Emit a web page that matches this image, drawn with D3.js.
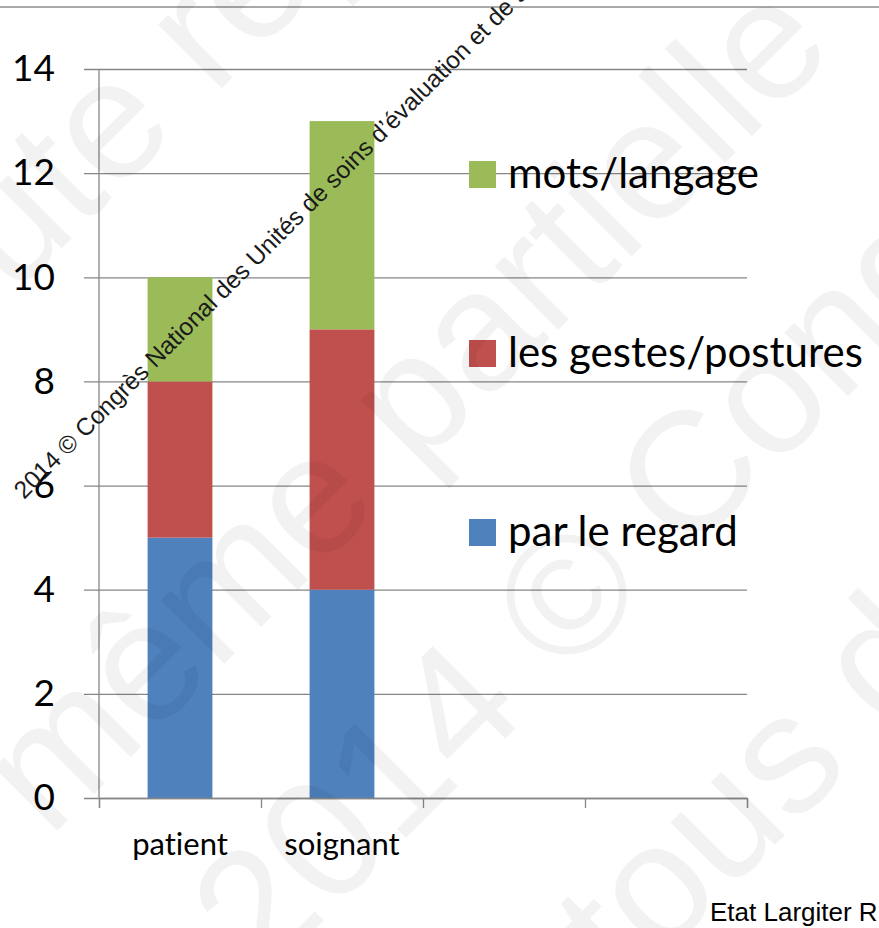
<!DOCTYPE html>
<meta charset="utf-8">
<script src="https://d3js.org/d3.v7.min.js"></script>
<style>
  body { margin: 0; background: #fff; }
  text { font-family: Lato, "Open Sans", sans-serif; font-variant-ligatures: none; }
</style>
<body>
<script>
// data
var categories = ["patient", "soignant", "", ""];
var seriesNames = ["par le regard", "les gestes/postures", "mots/langage"];
var regard = [5, 4];
var gestes = [3, 5];
var mots = [2, 4];
var colors = ["#4F81BD", "#C0504D", "#9BBB59"];
var yTicks = [0, 2, 4, 6, 8, 10, 12, 14];

// watermark lines
var bigMarks = ["Toute reproduction", "même partielle", "2014 © Congrès", "tous droits réservés"];
var smallMark = "2014 © Congrès National des Unités de soins d\u2019évaluation et de soins palliatifs";

var W = 879, H = 928;
var plotL = 99, plotR = 747, plotT = 69, plotB = 798;

var svg = d3.select("body").append("svg")
    .attr("width", W)
    .attr("height", H);

// thin line at top of slide
svg.append("line")
    .attr("x1", 0).attr("x2", W)
    .attr("y1", 7).attr("y2", 7)
    .attr("stroke", "#8c8c8c").attr("stroke-width", 1.3);

var x = d3.scaleBand()
    .domain(d3.range(categories.length))
    .range([plotL, plotR])
    .padding(0);

var xEdge = d3.scaleLinear()
    .domain([0, categories.length])
    .range([plotL, plotR]);

var y = d3.scaleLinear()
    .domain([0, 14])
    .range([plotB, plotT]);

// gridlines + y labels
var yAxis = svg.append("g")
    .attr("transform", "translate(" + (plotL - 15) + ",0)")
    .call(d3.axisLeft(y).tickValues(yTicks).tickSize(-(plotR - plotL + 15)).tickPadding(29));
yAxis.select(".domain").remove();
yAxis.selectAll(".tick line").attr("stroke", "#868686").attr("stroke-width", 1.3);
yAxis.selectAll(".tick text")
    .attr("fill", "#000")
    .style("font-family", "Lato, sans-serif")
    .style("font-size", "37px");

// stacked bars
var table = categories.slice(0, regard.length).map(function(c, i) {
  return {i: i, regard: regard[i], gestes: gestes[i], mots: mots[i]};
});
var keys = ["regard", "gestes", "mots"];
var stacked = d3.stack().keys(keys)(table);
var barW = x.bandwidth() * 0.4;

svg.append("g")
  .selectAll("g")
  .data(stacked)
  .enter().append("g")
    .attr("fill", function(d, k) { return colors[k]; })
  .selectAll("rect")
  .data(function(d) { return d; })
  .enter().append("rect")
    .attr("x", function(d) { return x(d.data.i) + (x.bandwidth() - barW) / 2; })
    .attr("y", function(d) { return y(d[1]); })
    .attr("width", barW)
    .attr("height", function(d) { return y(d[0]) - y(d[1]); });

// y axis line
svg.append("line")
    .attr("x1", plotL).attr("x2", plotL)
    .attr("y1", plotT).attr("y2", plotB)
    .attr("stroke", "#868686").attr("stroke-width", 1.3);

// x axis: ticks at band edges
var xAxis = svg.append("g")
    .attr("transform", "translate(0," + plotB + ")")
    .call(d3.axisBottom(xEdge).ticks(categories.length).tickSize(10).tickFormat(""));
xAxis.selectAll("line, path").attr("stroke", "#868686").attr("stroke-width", 1.3);

// category labels
svg.append("g")
  .selectAll("text")
  .data(categories)
  .enter().append("text")
    .attr("x", function(d, i) { return x(i) + x.bandwidth() / 2; })
    .attr("y", 855)
    .attr("text-anchor", "middle")
    .style("font-size", "31px")
    .text(function(d) { return d; });

// legend (top entry = last series)
var legend = svg.selectAll(".legend")
    .data(seriesNames.slice().reverse())
    .enter().append("g")
      .attr("class", "legend")
      .attr("transform", function(d, i) { return "translate(469," + (161 + i * 179) + ")"; });

legend.append("rect")
    .attr("width", 27)
    .attr("height", 27)
    .attr("fill", function(d, i) { return colors[colors.length - 1 - i]; });

legend.append("text")
    .attr("x", 39)
    .attr("y", 27)
    .style("font-size", "42px")
    .text(function(d) { return d; });

// footer text
svg.append("text")
    .attr("x", 710)
    .attr("y", 921)
    .style("font-family", "'Liberation Sans', Arial, sans-serif")
    .style("font-size", "26px")
    .text("Etat Largiter R");

// big faint watermark
var bigPos = [[-114, 424], [49, 839], [263, 981], [626, 994]];
svg.append("g")
  .selectAll("text")
  .data(bigMarks)
  .enter().append("text")
    .attr("transform", function(d, i) { return "translate(" + bigPos[i][0] + "," + bigPos[i][1] + ") rotate(-45)"; })
    .style("font-family", "'Liberation Sans', Arial, sans-serif")
    .style("font-size", "170px")
    .attr("fill", "rgba(0,0,0,0.05)")
    .text(function(d) { return d; });

// small copyright line
svg.append("text")
    .attr("transform", "translate(24,500) rotate(-45)")
    .style("font-family", "'Liberation Sans', Arial, sans-serif")
    .style("font-size", "24.5px")
    .attr("fill", "#1a1a1a")
    .text(smallMark);
</script>
</body>
